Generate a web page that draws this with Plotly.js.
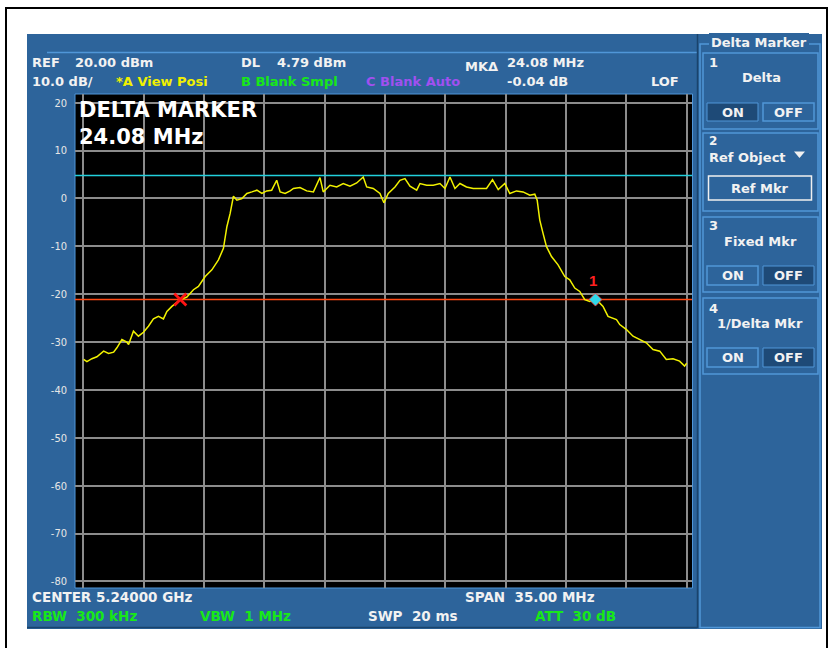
<!DOCTYPE html>
<html><head><meta charset="utf-8">
<script src="https://cdn.plot.ly/plotly-3.0.1.min.js"></script>
<style>html,body{margin:0;padding:0;background:#fff;}#chart{width:828px;height:648px;}</style>
</head><body><div id="chart"></div>
<script>
// ---- data (frequency offset from center 5.24 GHz, MHz ; level dBm) ----
const freqOffsetMHz = [-17.48,-17.29,-17.00,-16.71,-16.32,-16.03,-15.74,-15.55,-15.26,-14.97,-14.87,-14.59,-14.30,-14.01,-13.72,-13.43,-13.14,-12.85,-12.65,-12.36,-11.88,-11.49,-11.11,-10.82,-10.43,-10.04,-9.66,-9.37,-9.17,-8.98,-8.79,-8.59,-8.30,-8.01,-7.72,-7.43,-7.14,-6.86,-6.57,-6.28,-6.08,-5.79,-5.50,-5.31,-4.93,-4.54,-4.15,-3.77,-3.58,-3.19,-2.80,-2.42,-2.03,-1.64,-1.26,-1.06,-0.68,-0.29,-0.06,0.19,0.58,0.87,1.16,1.45,1.84,2.03,2.42,2.80,3.19,3.48,3.77,4.06,4.35,4.73,5.12,5.50,5.89,6.24,6.57,6.95,7.24,7.63,8.01,8.40,8.69,8.83,8.98,9.17,9.37,9.66,10.04,10.43,10.72,11.01,11.30,11.59,11.88,12.27,12.65,12.94,13.43,13.62,14.01,14.39,14.78,15.16,15.55,15.94,16.32,16.71,17.09,17.38,17.50];
const levelDbm = [-33.62,-34.10,-33.47,-33.06,-31.89,-32.37,-32.10,-31.19,-29.46,-30.02,-30.50,-27.73,-28.77,-27.94,-26.69,-25.16,-24.62,-25.16,-23.58,-22.54,-21.14,-20.58,-19.06,-18.38,-16.30,-14.91,-12.83,-10.40,-5.90,-3.12,0.48,-0.35,0.00,1.04,1.37,1.73,1.04,1.58,1.73,3.80,1.37,1.04,1.58,2.08,2.29,1.58,1.37,4.37,1.37,2.77,2.41,3.12,2.56,3.24,4.49,2.41,2.08,1.04,-0.91,1.04,2.41,3.80,4.16,2.56,1.73,3.12,2.77,2.77,3.12,2.08,4.49,2.08,3.12,2.41,2.08,2.08,2.08,3.95,1.87,3.12,1.04,1.58,1.37,0.69,0.89,-0.35,-4.51,-7.28,-10.06,-12.14,-13.87,-16.30,-16.99,-18.71,-19.42,-21.14,-21.50,-21.14,-22.54,-24.62,-25.30,-26.34,-27.38,-28.77,-29.46,-30.15,-31.54,-31.89,-33.62,-33.47,-33.97,-35.01,-34.40];
const xGridMHz = [-17.5,-14,-10.5,-7,-3.5,0,3.5,7,10.5,14,17.5];
const yTickVals = [20,10,0,-10,-20,-30,-40,-50,-60,-70,-80];
const yTickText = ['20','10','0','-10','-20','-30','-40','-50','-60','-70','-80'];
const displayLineDbm = 4.79;
const markerLineDbm = -21.1;
const refMarker = {f:-11.87, db:-21.08};
const deltaMarker = {f:12.21, db:-21.12};
const xRange = [-17.98, 17.81];
const yRange = [-81.36, 21.82];

// ---- geometry helpers (pixel -> paper) ----
const W=828,H=648,L=75,R=136,T=94,B=60,PW=W-L-R,PH=H-T-B;
const px=p=>(p-L)/PW, py=p=>(H-B-p)/PH;
const BLUE='#2d649b', LIGHT='#5096d8', DARK='#1a436c', SEL='#1e4a77';
const DJ='DejaVu Sans, Liberation Sans, sans-serif';
function rect(x0,y0,x1,y1,fill,lc,lw,layer){return {type:'rect',xref:'paper',yref:'paper',x0:px(x0),x1:px(x1),y0:py(y0),y1:py(y1),fillcolor:fill||'rgba(0,0,0,0)',line:{color:lc||'rgba(0,0,0,0)',width:lw||0},layer:layer||'below'};}
function line(x0,y0,x1,y1,lc,lw,layer){return {type:'line',xref:'paper',yref:'paper',x0:px(x0),x1:px(x1),y0:py(y0),y1:py(y1),line:{color:lc,width:lw},layer:layer||'below'};}
function txt(t,x,y,color,size,anchor,extra){return Object.assign({text:t,xref:'paper',yref:'paper',x:px(x),y:py(y),xanchor:anchor||'left',yanchor:'middle',showarrow:false,borderpad:0,borderwidth:0,font:{family:DJ,size:size||13,color:color||'#f2f2f2',weight:'bold'}},extra||{});}

const shapes=[
  rect(6,8,827,700,'#ffffff','#000000',2),
  rect(27,34,822,629,BLUE,null,0),
  rect(75,94,692.5,588,'#000000',LIGHT,1),
  line(47,52.5,697,52.5,LIGHT,1.5),
  line(697.5,34,697.5,628,DARK,1.5),
  line(27,627.5,697,627.5,DARK,1.5),
  rect(700,44,820,627.5,null,LIGHT,1.5),
  // box 1
  rect(703,53,818,129,null,LIGHT,1.5),
  rect(707,103,758,121,SEL,LIGHT,1),
  rect(763,103,814,121,BLUE,LIGHT,1.5),
  // box 2
  rect(703,133,818,211,null,LIGHT,1.5),
  rect(708.5,176,811.5,200,BLUE,'#f0f0f0',1.5),
  {type:'path',xref:'paper',yref:'paper',path:`M ${px(794)},${py(151.5)} L ${px(805)},${py(151.5)} L ${px(799.5)},${py(158)} Z`,fillcolor:'#f0f0f0',line:{width:0},layer:'above'},
  // box 3
  rect(703,217,818,292,null,LIGHT,1.5),
  rect(707,266,758,285,BLUE,LIGHT,1.5),
  rect(763,266,814,285,SEL,LIGHT,1),
  // box 4
  rect(703,298,818,374,null,LIGHT,1.5),
  rect(707,348,758,367,BLUE,LIGHT,1.5),
  rect(763,348,814,367,SEL,LIGHT,1)
];

const annotations=[
  txt('REF',32,63),txt('20.00 dBm',75,63),
  txt('DL',240.5,63),txt('4.79 dBm',277,63),
  txt('MK\u0394',465,66.5),txt('24.08 MHz',507,63),
  txt('10.0 dB/',32,81.5),
  txt('*A View Posi',116,81.5,'#f0f000'),
  txt('B Blank Smpl',240.5,81.5,'#18e818'),
  txt('C Blank Auto',365.5,81.5,'#a050f0'),
  txt('-0.04 dB',507,81.5),
  txt('LOF',650.5,81.5),
  txt('DELTA MARKER<br>24.08 MHz',79,123.5,'#ffffff',21,'left',{align:'left'}),
  txt('CENTER 5.24000 GHz',32,597,'#f2f2f2',13.5),
  txt('SPAN  35.00 MHz',465,597,'#f2f2f2',13.5),
  txt('RBW  300 kHz',32,616,'#18e818',13.5),
  txt('VBW  1 MHz',200,616,'#18e818',13.5),
  txt('SWP  20 ms',368,616,'#f2f2f2',13.5),
  txt('ATT  30 dB',535,616,'#18e818',13.5),
  // right panel
  txt('Delta Marker',759,43,'#f2f2f2',13,'center',{bgcolor:BLUE,borderpad:2}),
  txt('1',709,63),txt('Delta',761,78,null,13,'center'),
  txt('ON',732.5,112,null,13,'center'),txt('OFF',788.5,112,null,13,'center'),
  txt('2',709,141,null,12),txt('Ref Object',709,157),
  txt('Ref Mkr',760,188,null,13,'center'),
  txt('3',709,226),txt('Fixed Mkr',760,241,null,13,'center'),
  txt('ON',732.5,275.5,null,13,'center'),txt('OFF',788.5,275.5,null,13,'center'),
  txt('4',709,308),txt('1/Delta Mkr',760,323,null,13,'center'),
  txt('ON',732.5,357.5,null,13,'center'),txt('OFF',788.5,357.5,null,13,'center'),
  // marker number
  {text:'1',x:deltaMarker.f,y:deltaMarker.db,xref:'x',yref:'y',showarrow:false,yshift:19,xshift:-2,font:{family:'Liberation Sans, sans-serif',size:15,color:'#ff2020',weight:'bold'}}
];

const traces=[
  {x:xRange,y:[displayLineDbm,displayLineDbm],mode:'lines',line:{color:'#22d0dc',width:1.6},hoverinfo:'skip'},
  {x:xRange,y:[markerLineDbm,markerLineDbm],mode:'lines',line:{color:'#ff4a14',width:1.5},hoverinfo:'skip'},
  {x:freqOffsetMHz,y:levelDbm,mode:'lines',line:{color:'#f2f200',width:1.5},hoverinfo:'skip'},
  {x:[refMarker.f],y:[refMarker.db],mode:'markers',marker:{symbol:'x-thin',size:12,line:{color:'#ff1414',width:2.8}},hoverinfo:'skip'},
  {x:[deltaMarker.f],y:[deltaMarker.db],mode:'markers',marker:{symbol:'diamond',size:10,color:'#30d8ea',line:{color:'#ff3030',width:0.8}},hoverinfo:'skip'}
];

const layout={
  width:W,height:H,margin:{l:L,r:R,t:T,b:B,pad:0},
  paper_bgcolor:'#ffffff',plot_bgcolor:'#000000',showlegend:false,
  xaxis:{range:xRange,tickvals:xGridMHz,showticklabels:false,ticks:'',showgrid:true,gridcolor:'#8c8c8c',gridwidth:2,zeroline:false,showline:false,fixedrange:true},
  yaxis:{range:yRange,tickvals:yTickVals,ticktext:yTickText,ticks:'',showgrid:true,gridcolor:'#8c8c8c',gridwidth:2,zeroline:false,showline:false,fixedrange:true,
    tickfont:{family:'DejaVu Sans Condensed, DejaVu Sans, sans-serif',size:11,color:'#e6e6e6'},ticklabelstandoff:7},
  shapes:shapes,annotations:annotations
};
Plotly.newPlot('chart',traces,layout,{staticPlot:true,displayModeBar:false});
</script></body></html>
